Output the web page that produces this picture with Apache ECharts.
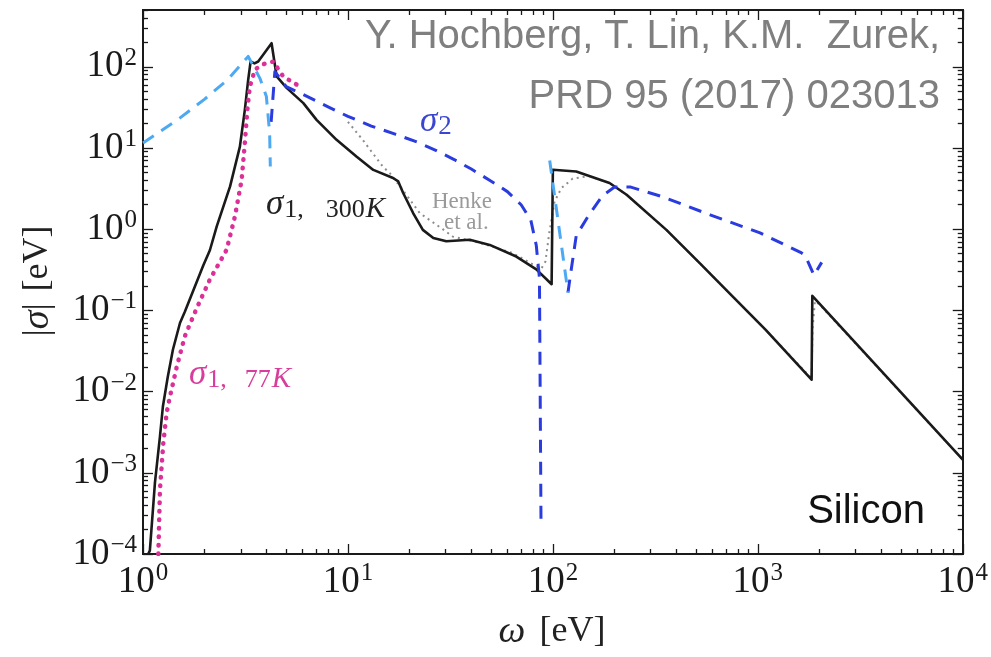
<!DOCTYPE html>
<html>
<head>
<meta charset="utf-8">
<title>Silicon conductivity</title>
<script src="https://cdn.jsdelivr.net/npm/echarts@6/dist/echarts.min.js"></script>
<style>
  html, body { margin: 0; padding: 0; background: #fff; }
  #chart { width: 991px; height: 657px; }
</style>
</head>
<body>
<div id="chart"></div>
<script>
// values: omega [eV] and |sigma| [eV]

// sigma_1, 300K (solid black)
const s300Omega = [1.06, 1.08, 1.144, 1.21, 1.25, 1.32, 1.40, 1.515, 1.60, 1.97, 2.12, 2.29, 2.66, 2.97, 3.14, 3.26, 3.35, 3.5, 3.65, 4.24, 4.49, 5.02, 6.06, 7.03, 8.8, 11.0, 13.3, 16.6, 17.6, 18.6, 20.8, 23.2, 26.1, 30.2, 39.3, 49.2, 66.3, 83.0, 98.6, 100.0, 130, 189, 229, 358, 522, 755, 1093, 1830, 1845, 10000];
const s300Sigma = [1.0e-4, 1.1e-4, 7.6e-4, 2.8e-3, 6.5e-3, 1.5e-2, 3.3e-2, 7.0e-2, 9.6e-2, 0.36, 0.55, 1.08, 3.36, 10.4, 29.5, 69, 116, 110, 116, 195, 76, 55, 35.7, 22.2, 12.6, 7.85, 5.37, 4.27, 3.87, 2.79, 1.58, 0.98, 0.78, 0.71, 0.74, 0.64, 0.46, 0.32, 0.21, 5.4, 5.13, 3.70, 2.65, 0.98, 0.38, 0.148, 0.0575, 0.014, 0.151, 1.45e-3];

// sigma_1, Henke et al. (grey dotted)
const henkeOmega = [10, 11.8, 14.8, 16.0, 18.5, 22.4, 29, 32.5, 44, 63.4, 83, 88, 92, 96, 102, 110, 125, 150, 189, 229, 358, 522, 755, 1093, 1830, 1850, 1900, 2000, 10000];
const henkeSigma = [21, 12.6, 5.9, 4.9, 3.05, 1.58, 1.0, 0.81, 0.68, 0.51, 0.35, 0.33, 0.40, 0.9, 2.2, 3.2, 4.2, 4.5, 3.7, 2.65, 0.98, 0.38, 0.148, 0.0575, 0.0145, 0.06, 0.13, 0.118, 1.45e-3];

// sigma_1, 77K (magenta dotted)
const s77Omega = [1.188, 1.21, 1.256, 1.305, 1.354, 1.46, 1.60, 1.83, 2.12, 2.51, 2.56, 2.81, 3.03, 3.14, 3.23, 3.32, 3.52, 3.79, 4.32, 4.83, 5.83];
const s77Sigma = [1.0e-4, 6.2e-4, 2.3e-3, 5.5e-3, 8.7e-3, 2.0e-2, 4.8e-2, 0.107, 0.24, 0.51, 0.56, 1.44, 4.06, 11.5, 29.5, 57, 92, 106, 116, 76, 57];

// sigma_2 (light blue dashed), two pieces
const s2LightAOmega = [1.0, 1.5, 2.0, 2.6, 3.26, 3.72, 4.0, 4.15, 4.18];
const s2LightASigma = [11.5, 23, 40, 70, 134, 72, 43, 15, 5.9];
const s2LightBOmega = [96.5, 118.5];
const s2LightBSigma = [7.0, 0.166];

// sigma_2 (dark blue dashed), two pieces
const s2DarkAOmega = [4.22, 4.4, 5.0, 6.0, 8.0, 10, 13, 17, 22, 27, 33, 40, 50, 60, 70, 78, 83, 86, 87.5];
const s2DarkASigma = [21, 87, 57, 46, 32, 24.5, 18.6, 14.8, 11.7, 9.3, 7.2, 5.5, 3.9, 2.9, 2.0, 1.3, 0.63, 0.25, 2.6e-4];
const s2DarkBOmega = [118.5, 122, 130, 150, 175, 200, 240, 344, 585, 1025, 1635, 1700, 1880, 2050];
const s2DarkBSigma = [0.166, 0.28, 0.83, 1.5, 2.6, 3.3, 3.3, 2.5, 1.5, 0.9, 0.51, 0.48, 0.27, 0.39];

// axis ticks (powers of ten)
const xTickExps = [0, 1, 2, 3, 4];
const yTickExps = [-4, -3, -2, -1, 0, 1, 2];

const SERIF = "'Liberation Serif', 'DejaVu Serif', serif";
const SANS = "'Liberation Sans', Arial, sans-serif";
const INK = '#1a1a1a';

function zip(xs, ys) {
    return xs.map(function (x, i) { return [x, ys[i]]; });
}

function minorTicks(lo, hi, max) {
    const out = [];
    for (let e = lo; e < hi; e++) {
        for (let k = 2; k < 10; k++) {
            const v = k * Math.pow(10, e);
            if (v <= max) out.push(v);
        }
    }
    return out;
}

function supText(e) {
    const s = e < 0 ? '\u2212' + (-e) : String(e);
    return '{b|10}{s|' + s + '}';
}

const labelRich = {
    b: { fontSize: 37, fontFamily: SERIF, color: INK, lineHeight: 42 },
    s: { fontSize: 25, fontFamily: SERIF, color: INK, lineHeight: 26, verticalAlign: 'top', padding: [0, 0, 0, 1] }
};

const X_MIN = 1, X_MAX = 10000, Y_MIN = 1e-4, Y_MAX = 500;
const xMajor = xTickExps.map(function (e) { return Math.pow(10, e); });
const yMajor = yTickExps.map(function (e) { return Math.pow(10, e); });
const xMinor = minorTicks(0, 4, X_MAX);
const yMinor = minorTicks(-4, 3, Y_MAX);

function axis(dim, position, ticks, len, labels) {
    const a = {
        type: 'log',
        logBase: 10,
        min: dim === 'x' ? X_MIN : Y_MIN,
        max: dim === 'x' ? X_MAX : Y_MAX,
        position: position,
        splitLine: { show: false },
        axisLine: { show: true, onZero: false, lineStyle: { color: INK, width: 2 } },
        axisTick: {
            show: true, inside: true, length: len, customValues: ticks,
            lineStyle: { color: INK, width: 1.3 }
        },
        axisLabel: { show: false }
    };
    if (labels) {
        a.axisLabel = {
            show: true,
            customValues: ticks,
            margin: dim === 'x' ? 7 : 6,
            formatter: function (v) {
                return supText(Math.round(Math.log10(v)));
            },
            rich: labelRich
        };
    }
    return a;
}

const chart = echarts.init(document.getElementById('chart'));

function lineSeries(name, data, color, width, dash, z, cap) {
    return {
        name: name,
        type: 'line',
        xAxisIndex: 0,
        yAxisIndex: 0,
        data: data,
        showSymbol: false,
        symbol: 'none',
        smooth: false,
        z: z,
        animation: false,
        lineStyle: { color: color, width: width, type: dash, cap: cap || 'butt', join: 'round' }
    };
}

function mathLabel(x, y, color, sub, pad) {
    // sigma with a roman subscript and an italic K
    return {
        type: 'text', left: x, top: y, z: 10,
        style: {
            text: '{g|\u03c3}{n|1,}{m|' + sub + '}{k|K}',
            rich: {
                g: { fontSize: 35, fontStyle: 'italic', fontFamily: SERIF, fill: color, lineHeight: 38 },
                n: { fontSize: 26, fontFamily: SERIF, fill: color, lineHeight: 30, verticalAlign: 'bottom', padding: [0, 0, 0, 1] },
                m: { fontSize: 26, fontFamily: SERIF, fill: color, lineHeight: 30, verticalAlign: 'bottom', padding: [0, 0, 0, pad] },
                k: { fontSize: 29, fontStyle: 'italic', fontFamily: SERIF, fill: color, lineHeight: 30, verticalAlign: 'bottom', padding: [0, 0, 0, 1] }
            }
        }
    };
}

const option = {
    animation: false,
    backgroundColor: '#fff',
    grid: { left: 143, top: 10, width: 820, height: 544, containLabel: false },
    xAxis: [
        axis('x', 'bottom', xMajor, 10, true),
        axis('x', 'bottom', xMinor, 5, false),
        axis('x', 'top', xMajor, 10, false),
        axis('x', 'top', xMinor, 5, false)
    ],
    yAxis: [
        axis('y', 'left', yMajor, 10, true),
        axis('y', 'left', yMinor, 5, false),
        axis('y', 'right', yMajor, 10, false),
        axis('y', 'right', yMinor, 5, false)
    ],
    series: [
        lineSeries('Henke et al.', zip(henkeOmega, henkeSigma), '#8c8c8c', 2, [2, 4], 2),
        lineSeries('sigma1 300K', zip(s300Omega, s300Sigma), INK, 2.6, 'solid', 3),
        lineSeries('sigma1 77K', zip(s77Omega, s77Sigma), '#dc2f97', 4.5, [0.5, 8], 4, 'round'),
        lineSeries('sigma2 a', zip(s2DarkAOmega, s2DarkASigma), '#2a3ce0', 3, [13, 9], 5),
        lineSeries('sigma2 b', zip(s2DarkBOmega, s2DarkBSigma), '#2a3ce0', 3, [13, 9], 5),
        lineSeries('sigma2 light a', zip(s2LightAOmega, s2LightASigma), '#4ca9f2', 3, [13, 9], 6),
        lineSeries('sigma2 light b', zip(s2LightBOmega, s2LightBSigma), '#4ca9f2', 3, [13, 9], 6)
    ],
    graphic: [
        {
            type: 'text', right: 51, top: 17, z: 10,
            style: { text: 'Y. Hochberg, T. Lin, K.M.  Zurek,', font: '40px ' + SANS, fill: '#7f7f7f' }
        },
        {
            type: 'text', right: 51, top: 77, z: 10,
            style: { text: 'PRD 95 (2017) 023013', font: '40px ' + SANS, fill: '#7f7f7f' }
        },
        {
            type: 'text', right: 66, top: 492, z: 10,
            style: { text: 'Silicon', font: '40px ' + SANS, fill: '#111' }
        },
        {
            type: 'text', left: 420, top: 104, z: 10,
            style: {
                text: '{g|\u03c3}{n|2}',
                rich: {
                    g: { fontSize: 35, fontStyle: 'italic', fontFamily: SERIF, fill: '#3a45d2', lineHeight: 38 },
                    n: { fontSize: 27, fontFamily: SERIF, fill: '#3a45d2', lineHeight: 30, verticalAlign: 'bottom', padding: [0, 0, 0, 1] }
                }
            }
        },
        mathLabel(266, 187, '#222', '300', 22),
        mathLabel(189, 357, '#d83c9c', '77', 18),
        {
            type: 'text', left: 432, top: 190, z: 10,
            style: { text: 'Henke', font: '23px ' + SERIF, fill: '#9a9a9a' }
        },
        {
            type: 'text', left: 444, top: 211, z: 10,
            style: { text: 'et al.', font: '23px ' + SERIF, fill: '#9a9a9a' }
        },
        {
            type: 'text', x: 552, y: 632, z: 10,
            style: {
                text: '{i|\u03c9}{r|[eV]}',
                align: 'center', verticalAlign: 'middle',
                rich: {
                    i: { fontSize: 38, fontStyle: 'italic', fontFamily: SERIF, fill: '#222' },
                    r: { fontSize: 36, fontFamily: SERIF, fill: '#222', padding: [0, 0, 0, 14] }
                }
            }
        },
        {
            type: 'text', x: 38, y: 281, rotation: Math.PI / 2, z: 10,
            style: {
                text: '{r||}{i|\u03c3}{r||}{p|[eV]}',
                align: 'center', verticalAlign: 'middle',
                rich: {
                    i: { fontSize: 38, fontStyle: 'italic', fontFamily: SERIF, fill: '#222' },
                    r: { fontSize: 36, fontFamily: SERIF, fill: '#222' },
                    p: { fontSize: 36, fontFamily: SERIF, fill: '#222', padding: [0, 0, 0, 12] }
                }
            }
        }
    ]
};

chart.setOption(option);

window.addEventListener('resize', function () {
    chart.resize();
});
</script>
</body>
</html>
